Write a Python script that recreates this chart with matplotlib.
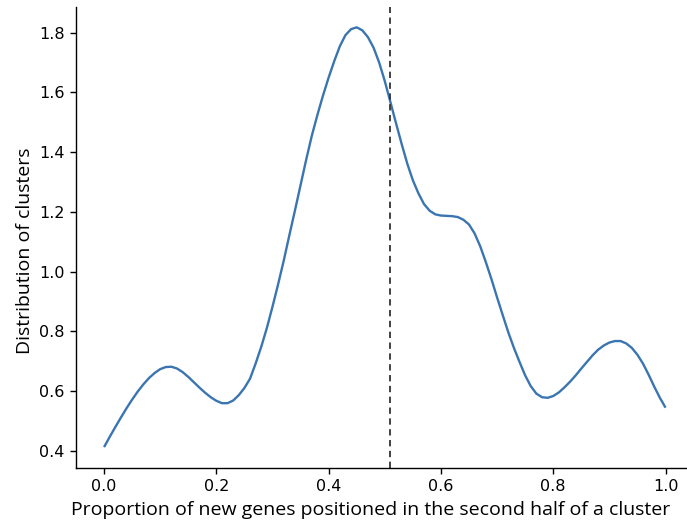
import matplotlib
matplotlib.use("Agg")
import matplotlib.pyplot as plt

# Density of clusters by the proportion of new genes in the second half
proportion = [0.00, 0.01, 0.02, 0.03, 0.04, 0.05, 0.06, 0.07, 0.08, 0.09,
              0.10, 0.11, 0.12, 0.13, 0.14, 0.15, 0.16, 0.17, 0.18, 0.19,
              0.20, 0.21, 0.22, 0.23, 0.24, 0.25, 0.26, 0.27, 0.28, 0.29,
              0.30, 0.31, 0.32, 0.33, 0.34, 0.35, 0.36, 0.37, 0.38, 0.39,
              0.40, 0.41, 0.42, 0.43, 0.44, 0.45, 0.46, 0.47, 0.48, 0.49,
              0.50, 0.51, 0.52, 0.53, 0.54, 0.55, 0.56, 0.57, 0.58, 0.59,
              0.60, 0.61, 0.62, 0.63, 0.64, 0.65, 0.66, 0.67, 0.68, 0.69,
              0.70, 0.71, 0.72, 0.73, 0.74, 0.75, 0.76, 0.77, 0.78, 0.79,
              0.80, 0.81, 0.82, 0.83, 0.84, 0.85, 0.86, 0.87, 0.88, 0.89,
              0.90, 0.91, 0.92, 0.93, 0.94, 0.95, 0.96, 0.97, 0.98, 0.99,
              1.00]
density = [0.413, 0.447, 0.480, 0.512, 0.543, 0.572, 0.599, 0.623, 0.644, 0.661,
           0.674, 0.681, 0.682, 0.676, 0.664, 0.648, 0.630, 0.612, 0.595, 0.580,
           0.568, 0.560, 0.560, 0.569, 0.587, 0.611, 0.642, 0.693, 0.749, 0.812,
           0.883, 0.958, 1.037, 1.122, 1.205, 1.290, 1.375, 1.455, 1.525, 1.590,
           1.650, 1.705, 1.755, 1.792, 1.812, 1.818, 1.808, 1.785, 1.750, 1.700,
           1.638, 1.568, 1.497, 1.428, 1.362, 1.306, 1.262, 1.226, 1.204, 1.192,
           1.188, 1.187, 1.186, 1.183, 1.174, 1.158, 1.128, 1.085, 1.032, 0.975,
           0.914, 0.855, 0.797, 0.745, 0.698, 0.653, 0.617, 0.592, 0.580, 0.578,
           0.584, 0.596, 0.613, 0.632, 0.653, 0.676, 0.698, 0.720, 0.739, 0.753,
           0.763, 0.768, 0.768, 0.760, 0.745, 0.722, 0.692, 0.655, 0.615, 0.578,
           0.545]
cutoff = 0.509

xticks = [0.0, 0.2, 0.4, 0.6, 0.8, 1.0]
yticks = [0.4, 0.6, 0.8, 1.0, 1.2, 1.4, 1.6, 1.8]

fig = plt.figure(figsize=(6.87, 5.22), dpi=100)
ax = fig.add_axes([0.1106, 0.1034, 0.899, 0.8826])

ax.plot(proportion, density, color="#3b75b1", linewidth=1.7,
        solid_joinstyle="round", solid_capstyle="butt")
ax.axvline(cutoff, color="#333333", linestyle=(0, (3.5, 2.5)), linewidth=1.3)

ax.set_xlim(-0.05, 1.05)
ax.set_ylim(0.343, 1.885)
ax.set_xticks(xticks)
ax.set_xticklabels([f"{t:.1f}" for t in xticks])
ax.set_yticks(yticks)
ax.set_yticklabels([f"{t:.1f}" for t in yticks])
ax.tick_params(labelsize=11.5, length=4.5, width=1.0)

for side in ("top", "right"):
    ax.spines[side].set_visible(False)
for side in ("left", "bottom"):
    ax.spines[side].set_linewidth(1.0)

ax.set_xlabel("Proportion of new genes positioned in the second half of a cluster",
              fontsize=14, family="Open Sans", labelpad=5)
ax.xaxis.label.set_x(0.477)
ax.set_ylabel("Distribution of clusters", fontsize=14, family="Open Sans", labelpad=4)
ax.yaxis.label.set_y(0.471)

fig.savefig("out.png", dpi=100)
